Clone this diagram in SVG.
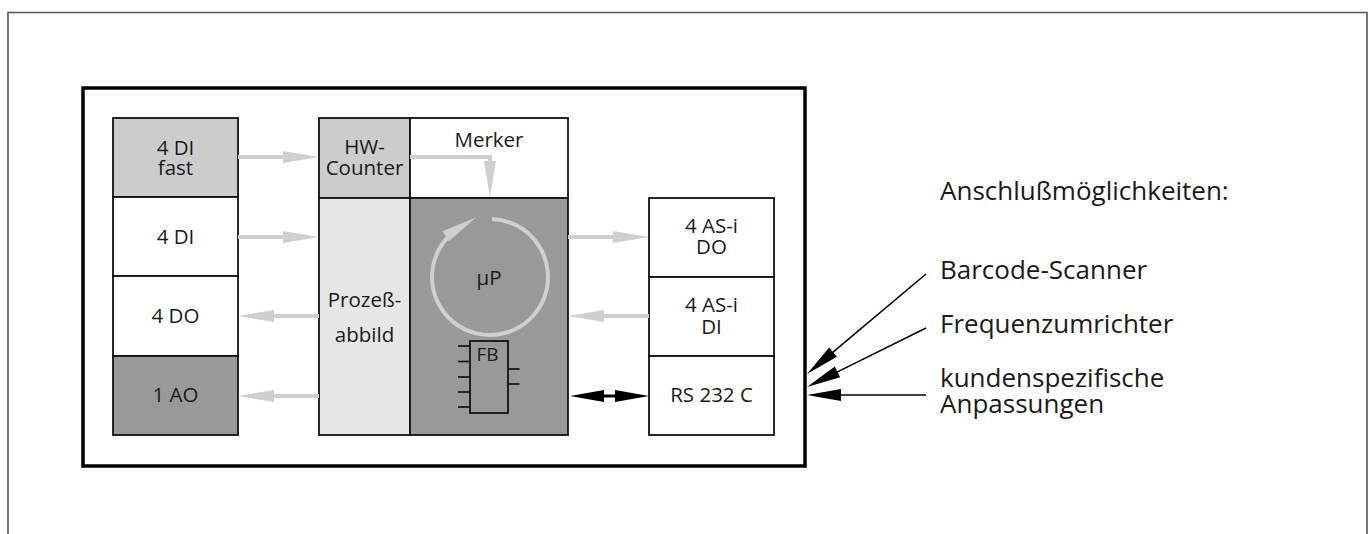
<svg xmlns="http://www.w3.org/2000/svg" width="1369" height="534" viewBox="0 0 1369 534">
<style>
text{font-family:"Open Sans","Noto Sans","Liberation Sans",sans-serif;fill:#1a1a1a}
.b{font-size:20.5px;text-anchor:middle}
.l{font-size:26px}
.box{stroke:#111;stroke-width:1.8}
.g{fill:none;stroke:#cfcfcf;stroke-width:4}
.k{fill:none;stroke:#000;stroke-width:1.6}
</style>
<defs>
<marker id="ga" markerUnits="userSpaceOnUse" markerWidth="36" markerHeight="12" refX="16" refY="6" orient="auto" overflow="visible">
<path d="M0,0 L36,6 L0,12 z" fill="#cfcfcf"/>
</marker>
<marker id="ka" markerUnits="userSpaceOnUse" markerWidth="34" markerHeight="12" refX="14" refY="6" orient="auto-start-reverse" overflow="visible">
<path d="M0,0 L34,6 L0,12 z" fill="#000"/>
</marker>
</defs>
<rect width="1369" height="534" fill="#fff"/>
<path id="frame" d="M8,534 V12.5 H1367 V534" fill="none" stroke="#555" stroke-width="1.6"/>
<rect id="module" x="83" y="88" width="722" height="378" fill="none" stroke="#000" stroke-width="3.5"/>

<g id="n-di-fast"><rect class="box" x="113" y="118" width="125" height="79" fill="#cccccc"/><text class="b" x="175.5" y="155">4 DI</text><text class="b" x="175.5" y="175">fast</text></g>
<g id="n-di"><rect class="box" x="113" y="197" width="125" height="79" fill="#fff"/><text class="b" x="175.5" y="244">4 DI</text></g>
<g id="n-do"><rect class="box" x="113" y="276" width="125" height="80" fill="#fff"/><text class="b" x="175.5" y="323">4 DO</text></g>
<g id="n-ao"><rect class="box" x="113" y="356" width="125" height="79" fill="#999999"/><text class="b" x="175.5" y="402">1 AO</text></g>

<g id="n-hw"><rect class="box" x="319" y="118" width="91" height="80" fill="#cccccc"/><text class="b" x="364.5" y="154">HW-</text><text class="b" x="364.5" y="175">Counter</text></g>
<g id="n-merker"><rect class="box" x="410" y="118" width="158" height="80" fill="#fff"/><text class="b" x="489" y="147">Merker</text></g>
<g id="n-prozess"><rect class="box" x="319" y="198" width="91" height="237" fill="#e6e6e6"/><text class="b" x="364.5" y="307">Prozeß-</text><text class="b" x="364.5" y="342">abbild</text></g>
<g id="n-up"><rect class="box" x="410" y="198" width="158" height="237" fill="#999999"/><text class="b" x="489" y="285">µP</text>
<path class="g" d="M492,219.04 A58,58 0 1 1 459.3,227.8" marker-end="url(#ga)"/>
</g>
<g id="n-fb" fill="none" stroke="#000" stroke-width="1.6">
<rect x="470" y="341" width="38" height="72"/>
<path d="M458,346 H470 M458,361.5 H470 M458,377 H470 M458,392 H470 M458,407 H470 M508,369 H519.5 M508,384 H519.5"/>
<text x="476.5" y="361" style="font-size:19px;fill:#1a1a1a;stroke:none">FB</text>
</g>

<g id="n-asi-do"><rect class="box" x="649" y="198" width="125" height="79" fill="#fff"/><text class="b" x="711.5" y="233">4 AS-i</text><text class="b" x="711.5" y="254">DO</text></g>
<g id="n-asi-di"><rect class="box" x="649" y="277" width="125" height="79" fill="#fff"/><text class="b" x="711.5" y="312">4 AS-i</text><text class="b" x="711.5" y="334">DI</text></g>
<g id="n-rs232"><rect class="box" x="649" y="356" width="125" height="79" fill="#fff"/><text class="b" x="711.5" y="402">RS 232 C</text></g>

<g id="labels">
<text class="l" x="940" y="200">Anschlußmöglichkeiten:</text>
<text class="l" x="940" y="279">Barcode-Scanner</text>
<text class="l" x="940" y="333">Frequenzumrichter</text>
<text class="l" x="940" y="387">kundenspezifische</text>
<text class="l" x="940" y="413">Anpassungen</text>
</g>

<g id="connectors">
<path class="g" d="M238,157 H299" marker-end="url(#ga)"/>
<path class="g" d="M238,237 H299" marker-end="url(#ga)"/>
<path class="g" d="M319,316 H258" marker-end="url(#ga)"/>
<path class="g" d="M319,396 H258" marker-end="url(#ga)"/>
<path class="g" d="M568,237 H629" marker-end="url(#ga)"/>
<path class="g" d="M649,316 H588" marker-end="url(#ga)"/>
<path class="g" d="M410,157 H490 V177" marker-end="url(#ga)"/>
<path d="M590,396 H629" fill="none" stroke="#000" stroke-width="3" marker-start="url(#ka)" marker-end="url(#ka)"/>
<path class="k" d="M926,274 L822.3,361.1" marker-end="url(#ka)"/>
<path class="k" d="M926,328 L824.9,378.1" marker-end="url(#ka)"/>
<path class="k" d="M926,395 L827,395" marker-end="url(#ka)"/>
</g>
</svg>
